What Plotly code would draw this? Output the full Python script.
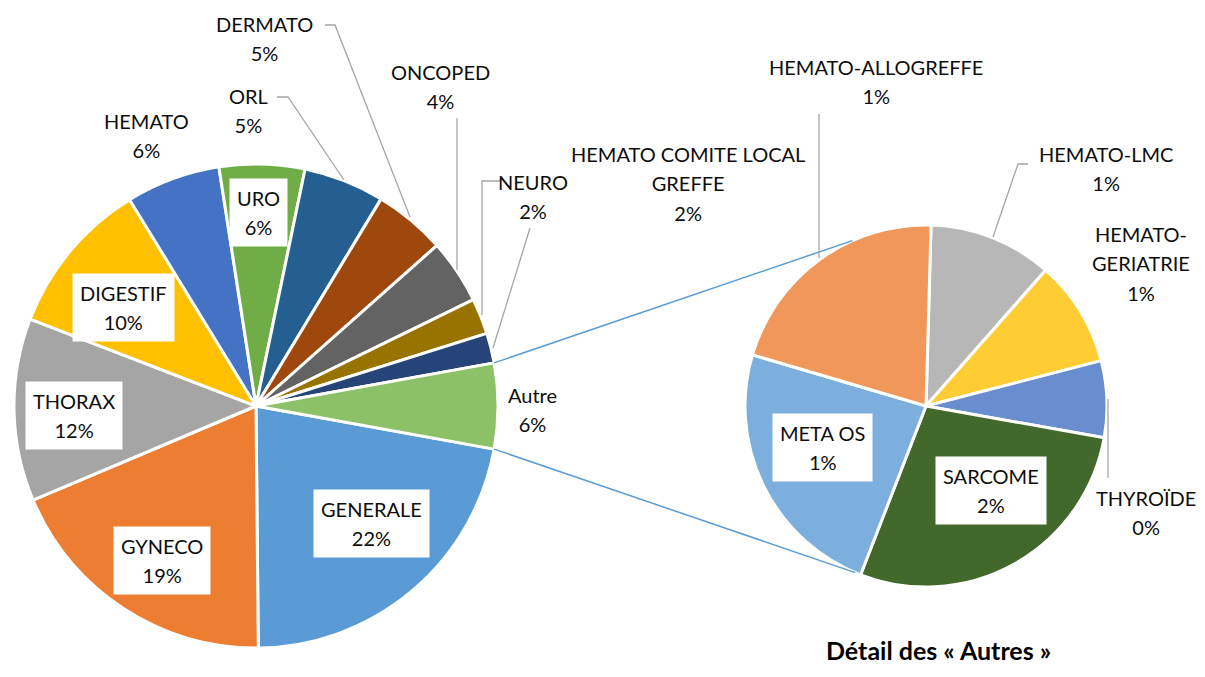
import plotly.graph_objects as go
import math

W, H = 1205, 677
OFF = 8  # page body margin
FW, FH = W - 2 * OFF, H - 2 * OFF

# ---- data (percent of total) ----
main_labels = ["GENERALE", "GYNECO", "THORAX", "DIGESTIF", "HEMATO", "URO", "ORL",
               "DERMATO", "ONCOPED", "NEURO", "HEMATO COMITE LOCAL GREFFE"]
main_values = [22.0, 18.8, 12.2, 10.4, 6.3, 5.7, 5.4, 4.8, 4.3, 2.4, 2.0]
main_colors = ["#5B9BD5", "#ED7D31", "#A5A5A5", "#FFC000", "#4472C4", "#70AD47", "#255E91",
               "#9E480E", "#636363", "#997300", "#264478"]
other_label = "Autre"
other_color = "#8CC168"

sub_labels = ["HEMATO-LMC", "HEMATO-GERIATRIE", "THYROÏDE", "SARCOME", "META OS", "HEMATO-ALLOGREFFE"]
sub_values = [0.63, 0.54, 0.39, 1.60, 1.35, 1.19]
sub_colors = ["#B7B7B7", "#FFCD33", "#698ED0", "#43682B", "#7CAFDD", "#F1975A"]

title_text = "Détail des « Autres »"

# ---- derived ----
other_value = sum(sub_values)
total = sum(main_values) + other_value
pie1_labels = main_labels + [other_label]
pie1_values = main_values + [other_value]
pie1_colors = main_colors + [other_color]

def pct(v):
    return f"{round(v / total * 100):.0f}%"

# geometry (pixels in page)
C1 = (256, 406); R1 = 242
C2 = (926, 406); R2 = 181

def px(x):
    return (x - OFF) / FW

def py(y):
    return 1 - (y - OFF) / FH

def dom(c, r):
    return dict(x=[px(c[0] - r), px(c[0] + r)], y=[py(c[1] + r), py(c[1] - r)])

other_half = other_value / total * 180.0

fig = go.Figure()
fig.add_trace(go.Pie(
    labels=pie1_labels, values=pie1_values, sort=False, direction="clockwise",
    rotation=90 + other_half, domain=dom(C1, R1), textinfo="none", hoverinfo="label+percent",
    marker=dict(colors=pie1_colors, line=dict(color="white", width=3)), showlegend=False))
fig.add_trace(go.Pie(
    labels=sub_labels, values=sub_values, sort=False, direction="clockwise",
    rotation=1.6, domain=dom(C2, R2), textinfo="none", hoverinfo="label+value",
    marker=dict(colors=sub_colors, line=dict(color="white", width=3)), showlegend=False))

shapes = []
# connector lines
for sgn, ang2 in [(1, 114), (-1, -113)]:
    a1 = math.radians(sgn * other_half)
    x0 = C1[0] + R1 * math.cos(a1); y0 = C1[1] - R1 * math.sin(a1)
    a2 = math.radians(ang2)
    x1 = C2[0] + R2 * math.cos(a2); y1 = C2[1] - R2 * math.sin(a2)
    shapes.append(dict(type="line", xref="paper", yref="paper", x0=px(x0), y0=py(y0),
                       x1=px(x1), y1=py(y1), line=dict(color="#5B9BD5", width=1.5)))

# leader lines (pixel polylines)
leaders = [
    [(325, 25), (335, 25), (410, 217)],
    [(277, 97), (288, 97), (344, 180)],
    [(457, 118), (457, 270)],
    [(500, 181), (482, 181), (482, 315)],
    [(530, 228), (493, 348)],
    [(819, 114), (819, 258)],
    [(1028, 164), (1018, 164), (993, 237)],
    [(1108, 399), (1108, 478)],
]
for pts in leaders:
    path = "M " + " L ".join(f"{px(x)},{py(y)}" for x, y in pts)
    shapes.append(dict(type="path", xref="paper", yref="paper", path=path,
                       line=dict(color="#A6A6A6", width=1.3)))

FONT = "Lato"
def lbl(text_lines, x, y, boxed=False):
    t = "<br>".join(f"<span style='font-size:20px'>{s}</span>" for s in text_lines)
    a = dict(text=t, x=px(x), y=py(y), xref="paper", yref="paper", showarrow=False,
             xanchor="center", yanchor="middle", align="center",
             font=dict(family=FONT, size=22.5, color="#0d0d0d"))
    if boxed:
        a.update(bgcolor="white", borderpad=7)
    return a

lab = dict(zip(pie1_labels, pie1_values))
sub = dict(zip(sub_labels, sub_values))
ann = [
    lbl(["GENERALE", pct(lab["GENERALE"])], 371, 523, True),
    lbl(["GYNECO", pct(lab["GYNECO"])], 162, 560, True),
    lbl(["THORAX", pct(lab["THORAX"])], 74, 415, True),
    lbl(["DIGESTIF", pct(lab["DIGESTIF"])], 123, 307, True),
    lbl(["HEMATO", pct(lab["HEMATO"])], 146, 135),
    lbl(["URO", pct(lab["URO"])], 258, 212, True),
    lbl(["ORL", pct(lab["ORL"])], 248, 111),
    lbl(["DERMATO", pct(lab["DERMATO"])], 264, 38),
    lbl(["ONCOPED", pct(lab["ONCOPED"])], 440, 86),
    lbl(["NEURO", pct(lab["NEURO"])], 533, 196),
    lbl(["HEMATO COMITE LOCAL", "GREFFE", pct(lab["HEMATO COMITE LOCAL GREFFE"])], 688, 184),
    lbl([other_label, pct(other_value)], 532, 410),
    lbl(["HEMATO-ALLOGREFFE", pct(sub["HEMATO-ALLOGREFFE"])], 876, 82),
    lbl(["HEMATO-LMC", pct(sub["HEMATO-LMC"])], 1106, 168),
    lbl(["HEMATO-", "GERIATRIE", pct(sub["HEMATO-GERIATRIE"])], 1141, 263),
    lbl(["THYROÏDE", pct(sub["THYROÏDE"])], 1146, 512),
    lbl(["META OS", pct(sub["META OS"])], 822, 448, True),
    lbl(["SARCOME", pct(sub["SARCOME"])], 991, 490, True),
    dict(text=f"<b>{title_text}</b>", x=px(938), y=py(650), xref="paper", yref="paper",
         showarrow=False, xanchor="center", yanchor="middle",
         font=dict(family=FONT, size=25, color="#000000")),
]

fig.update_layout(width=FW, height=FH, margin=dict(l=0, r=0, t=0, b=0),
                  paper_bgcolor="white", plot_bgcolor="white",
                  shapes=shapes, annotations=ann, showlegend=False)
fig.write_html("out.html")
